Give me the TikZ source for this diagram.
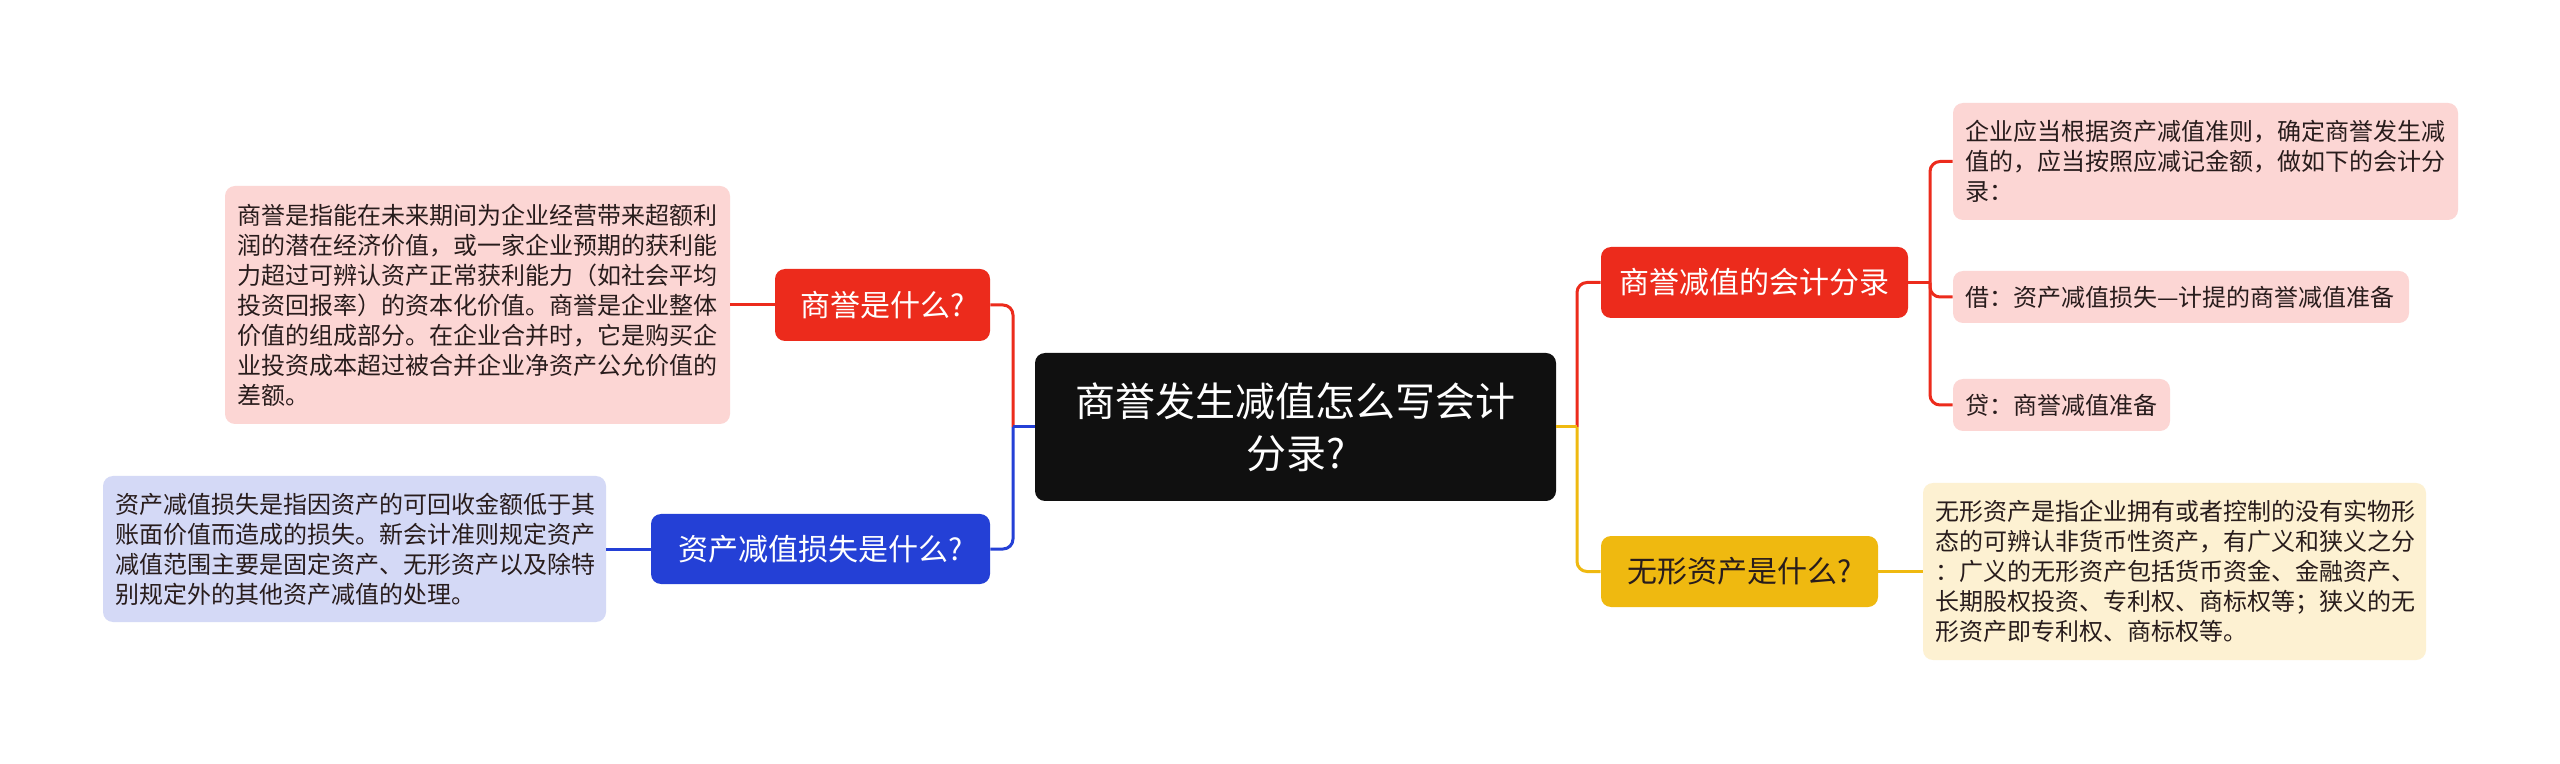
\documentclass[tikz,border=0pt]{standalone}
\usepackage{fontspec}
\newfontfamily\cjk{Noto Sans CJK SC}
\definecolor{cred}{RGB}{236,43,28}
\definecolor{cpink}{RGB}{252,214,212}
\definecolor{cblue}{RGB}{36,64,214}
\definecolor{clav}{RGB}{212,217,246}
\definecolor{cyellow}{RGB}{239,185,16}
\definecolor{ccream}{RGB}{253,241,210}
\definecolor{cblack}{RGB}{16,16,16}
\definecolor{ctext}{RGB}{40,28,28}
\begin{document}
\begin{tikzpicture}[x=0.5pt,y=-0.5pt]
\tikzset{
  base/.style={rounded corners=5pt, inner sep=0pt, align=center},
  rootbox/.style={base, fill=cblack, text=white, font=\cjk\fontsize{20pt}{26pt}\selectfont, minimum width=260.5pt, minimum height=74pt},
  branch/.style={base, text=white, font=\cjk\fontsize{15pt}{18pt}\selectfont},
  desc/.style={rounded corners=5pt, inner xsep=6.25pt, inner ysep=0pt, align=left, text=ctext, font=\cjk\fontsize{12pt}{15pt}\selectfont},
  link/.style={line width=1.5pt, rounded corners=5pt},
}
\useasboundingbox (0,0) rectangle (2560,764);
\fill[white] (0,0) rectangle (2560,764);

% root
\node[rootbox] (root) at (1295.5,427) {商誉发生减值怎么写会计\\分录?};

% left branches
\node[branch, fill=cred, minimum width=107.5pt, minimum height=36pt] (l1) at (882.5,305) {商誉是什么?};
\node[desc, fill=cpink, text width=240pt, minimum height=119pt] (d1) at (477.5,305) {商誉是指能在未来期间为企业经营带来超额利\\润的潜在经济价值，或一家企业预期的获利能\\力超过可辨认资产正常获利能力（如社会平均\\投资回报率）的资本化价值。商誉是企业整体\\价值的组成部分。在企业合并时，它是购买企\\业投资成本超过被合并企业净资产公允价值的\\差额。};
\node[branch, fill=cblue, minimum width=169.5pt, minimum height=35pt] (l2) at (820.5,549) {资产减值损失是什么?};
\node[desc, fill=clav, text width=239pt, minimum height=73pt] (d2) at (354.5,549) {资产减值损失是指因资产的可回收金额低于其\\账面价值而造成的损失。新会计准则规定资产\\减值范围主要是固定资产、无形资产以及除特\\别规定外的其他资产减值的处理。};

% right branches
\node[branch, fill=cred, minimum width=153.5pt, minimum height=35.5pt] (r1) at (1754.5,282.5) {商誉减值的会计分录};
\node[desc, fill=cpink, text width=240pt, minimum height=58.5pt] (r1a) at (2205.5,161.5) {企业应当根据资产减值准则，确定商誉发生减\\值的，应当按照应减记金额，做如下的会计分\\录：};
\node[desc, fill=cpink, text width=215.5pt, minimum height=26pt] (r1b) at (2181,297) {借：资产减值损失—计提的商誉减值准备};
\node[desc, fill=cpink, text width=96pt, minimum height=26pt] (r1c) at (2061.5,405) {贷：商誉减值准备};
\node[branch, fill=cyellow, text=ctext, minimum width=138.5pt, minimum height=35.5pt] (r2) at (1739.5,571.5) {无形资产是什么?};
\node[desc, fill=ccream, text width=239pt, minimum height=88.5pt] (d3) at (2174.5,571.5) {无形资产是指企业拥有或者控制的没有实物形\\态的可辨认非货币性资产，有广义和狭义之分\\：广义的无形资产包括货币资金、金融资产、\\长期股权投资、专利权、商标权等；狭义的无\\形资产即专利权、商标权等。};

% junctions
\coordinate (jl) at (1013,427);
\coordinate (jr) at (1577,427);
\coordinate (jr1) at (1930,282.5);

% connectors
\draw[link, cred] (jl) |- (l1.east);
\draw[link, cblue] (root.west) -- (jl);
\draw[link, cblue] (jl) |- (l2.east);
\draw[link, cred] (l1.west) -- (d1.east);
\draw[link, cblue] (l2.west) -- (d2.east);

\draw[link, cred] (jr) |- (r1.west);
\draw[link, cyellow] (root.east) -- (jr);
\draw[link, cyellow] (jr) |- (r2.west);
\draw[link, cyellow] (r2.east) -- (d3.west);

\draw[link, cred] (r1.east) -- (jr1);
\draw[link, cred] (jr1) |- (r1a.west);
\draw[link, cred] (jr1) |- (r1b.west);
\draw[link, cred] (jr1) |- (r1c.west);
\end{tikzpicture}
\end{document}
